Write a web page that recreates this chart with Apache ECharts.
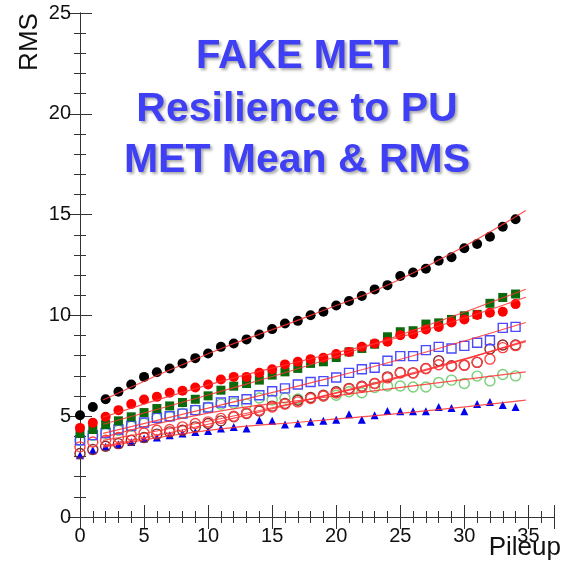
<!DOCTYPE html>
<html>
<head>
<meta charset="utf-8">
<script src="https://cdn.jsdelivr.net/npm/echarts@6/dist/echarts.min.js"></script>
<style>
  html, body { margin: 0; padding: 0; background: #fff; }
  #chart { width: 564px; height: 571px; }
</style>
</head>
<body>
<div id="chart"></div>
<script>
// pileup bins
const pileup = [0, 1, 2, 3, 4, 5, 6, 7, 8, 9, 10, 11, 12, 13, 14, 15, 16, 17,
  18, 19, 20, 21, 22, 23, 24, 25, 26, 27, 28, 29, 30, 31, 32, 33, 34];

// RMS values
const blackFilled = [5.05, 5.46, 5.84, 6.21, 6.57, 6.95, 7.18, 7.37, 7.62, 7.88, 8.11, 8.44, 8.61, 8.81, 9.05, 9.32, 9.60, 9.73,
  10.01, 10.18, 10.49, 10.71, 10.96, 11.29, 11.50, 11.95, 12.13, 12.31, 12.71, 12.88, 13.33, 13.54, 13.90, 14.40, 14.77];
const redFilled = [4.42, 4.67, 4.97, 5.30, 5.60, 5.83, 5.96, 6.16, 6.26, 6.42, 6.57, 6.82, 6.95, 6.95, 7.15, 7.33, 7.57, 7.70,
  7.83, 7.90, 8.08, 8.19, 8.44, 8.61, 8.69, 9.02, 9.07, 9.30, 9.43, 9.65, 9.80, 10.02, 10.13, 10.18, 10.56];
const greenSquares = [4.14, 4.34, 4.59, 4.77, 4.97, 5.18, 5.38, 5.51, 5.68, 5.84, 6.01, 6.29, 6.49, 6.62, 6.79, 7.04, 7.20, 7.37,
  7.62, 7.70, 7.91, 8.19, 8.36, 8.57, 8.94, 9.19, 9.24, 9.57, 9.63, 9.80, 9.98, 10.05, 10.60, 10.89, 11.06];
const blueSquares = [3.81, 4.06, 4.17, 4.34, 4.52, 4.69, 4.92, 5.00, 5.13, 5.30, 5.43, 5.68, 5.74, 5.84, 6.04, 6.24, 6.38, 6.57,
  6.70, 6.74, 6.92, 7.15, 7.33, 7.40, 7.75, 7.98, 7.98, 8.28, 8.44, 8.36, 8.49, 8.64, 8.77, 9.38, 9.43];
const redOpen = [3.48, 3.72, 3.81, 3.94, 4.06, 4.17, 4.30, 4.34, 4.47, 4.64, 4.72, 4.89, 5.00, 5.16, 5.30, 5.46, 5.60, 5.71,
  5.88, 6.00, 6.15, 6.35, 6.45, 6.62, 6.90, 7.15, 7.15, 7.35, 7.55, 7.48, 7.53, 7.68, 7.83, 8.40, 8.50];
const brownOpen = [3.15, 3.35, 3.51, 3.64, 3.81, 3.94, 4.11, 4.22, 4.30, 4.47, 4.64, 4.77, 4.97, 5.13, 5.26, 5.50, 5.63, 5.79,
  5.93, 6.04, 6.21, 6.38, 6.49, 6.62, 6.95, 7.17, 7.15, 7.37, 7.75, 7.50, 7.53, 7.67, 8.33, 8.53, 8.53];
const greenOpen = [3.80, 4.05, 4.15, 4.30, 4.50, 4.65, 4.90, 5.00, 5.15, 5.30, 5.45, 5.60, 5.65, 5.60, 5.90, 5.80, 5.90, 5.85,
  5.90, 6.00, 6.04, 6.21, 6.16, 6.42, 6.50, 6.50, 6.45, 6.45, 6.67, 6.79, 6.62, 6.99, 6.75, 7.07, 7.00];
const blueTriangles = [3.06, 3.31, 3.48, 3.61, 3.72, 3.89, 3.94, 4.06, 4.14, 4.22, 4.27, 4.39, 4.47, 4.39, 4.80, 4.77, 4.59, 4.64,
  4.72, 4.77, 4.83, 5.10, 4.83, 5.05, 5.26, 5.25, 5.25, 5.25, 5.46, 5.41, 5.25, 5.60, 5.71, 5.55, 5.46];

// fit curves, sampled off the plot
const fitX = [1.8, 10, 18, 26, 34.8];
const fitBlack = [5.8, 8.1, 10.0, 12.1, 15.2];
const fitRedFilled = [4.95, 6.55, 7.85, 9.1, 10.9];
const fitGreenSquares = [4.6, 6.05, 7.55, 9.25, 11.3];
const fitBlueSquares = [4.15, 5.4, 6.65, 8.0, 9.65];
const fitRedOpen = [3.8, 4.75, 5.85, 7.1, 8.75];
const fitBrownOpen = [3.5, 4.6, 5.85, 7.15, 8.7];
const fitGreenOpen = [3.95, 5.15, 5.85, 6.5, 7.2];
const fitTriangles = [3.45, 4.3, 4.75, 5.2, 5.8];

const xTicks = [0, 5, 10, 15, 20, 25, 30, 35];
const yTicks = [0, 5, 10, 15, 20, 25];

function pts(ys) {
  return pileup.map(function (x, i) { return [x, ys[i]]; });
}
function fitPts(ys) {
  return fitX.map(function (x, i) { return [x, ys[i]]; });
}

function scatter(name, ys, symbol, size, fill, stroke) {
  return {
    name: name,
    type: 'scatter',
    data: pts(ys),
    symbol: symbol,
    symbolSize: size,
    itemStyle: {
      color: fill || 'rgba(255,255,255,0)',
      borderColor: stroke || fill,
      borderWidth: fill ? 0 : 1.4,
      opacity: 1
    },
    z: 3
  };
}
function fit(ys) {
  return {
    type: 'line',
    data: fitPts(ys),
    smooth: true,
    showSymbol: false,
    symbol: 'none',
    lineStyle: { color: '#ff3030', width: 1.2, opacity: 0.85 },
    z: 4,
    silent: true
  };
}

const font = "'Liberation Sans', Arial, sans-serif";
const axisCommon = {
  type: 'value',
  interval: 5,
  minorTick: { show: true, splitNumber: 5, length: 6, lineStyle: { color: '#333' } },
  axisLine: { show: true, lineStyle: { color: '#333', width: 1 } },
  axisTick: { show: true, inside: true, length: 12, lineStyle: { color: '#333' } },
  splitLine: { show: false },
  minorSplitLine: { show: false }
};

let myChart = echarts.init(document.getElementById('chart'), null, { renderer: 'canvas' });
myChart.setOption({
  backgroundColor: '#fff',
  animation: false,
  grid: { left: 80, right: 10, top: 13, bottom: 54 },
  xAxis: [
    Object.assign({}, axisCommon, {
      position: 'bottom', min: 0, max: 37,
      axisLabel: {
        color: '#111', fontSize: 20, fontFamily: font, margin: 9,
        showMinLabel: true, showMaxLabel: false,
        formatter: function (v) { return xTicks.indexOf(v) >= 0 ? String(v) : ''; }
      }
    }),
    Object.assign({}, axisCommon, {
      position: 'top', min: 0, max: 37,
      axisLabel: { show: false }
    })
  ],
  yAxis: [
    Object.assign({}, axisCommon, {
      position: 'left', min: 0, max: 25,
      axisLabel: {
        color: '#111', fontSize: 20, fontFamily: font, margin: 9,
        showMinLabel: true, showMaxLabel: true,
        formatter: function (v) { return yTicks.indexOf(v) >= 0 ? String(v) : ''; }
      }
    }),
    Object.assign({}, axisCommon, {
      position: 'right', min: 0, max: 25,
      axisLabel: { show: false }
    })
  ],
  series: [
    scatter('blue triangles', blueTriangles, 'triangle', 8, '#0000ee'),
    scatter('green open', greenOpen, 'circle', 10, null, '#77d077'),
    scatter('brown open', brownOpen, 'circle', 10, null, '#8a2a2a'),
    scatter('red open', redOpen, 'circle', 10, null, '#ff4040'),
    scatter('blue open', blueSquares, 'rect', 9, null, '#4a4aff'),
    scatter('green squares', greenSquares, 'rect', 9, '#0b6a0b'),
    scatter('red filled', redFilled, 'circle', 10, '#ff0000'),
    scatter('black filled', blackFilled, 'circle', 10, '#000000'),
    fit(fitBlack),
    fit(fitRedFilled),
    fit(fitGreenSquares),
    fit(fitBlueSquares),
    fit(fitRedOpen),
    fit(fitBrownOpen),
    fit(fitGreenOpen),
    fit(fitTriangles)
  ],
  graphic: [
    {
      type: 'text', x: 30, y: 42, rotation: Math.PI / 2,
      style: { text: 'RMS', font: '26px ' + font, fill: '#111', align: 'center', verticalAlign: 'middle' }
    },
    {
      type: 'text', x: 561, y: 548,
      style: { text: 'Pileup', font: '26px ' + font, fill: '#111', align: 'right', verticalAlign: 'middle' }
    },
    {
      type: 'text', x: 297, y: 57,
      style: {
        text: 'FAKE MET', font: 'bold 40px ' + font, fill: '#3f3ff5', align: 'center', verticalAlign: 'middle',
        textShadowColor: 'rgba(0,0,0,0.35)', textShadowBlur: 3, textShadowOffsetX: 2, textShadowOffsetY: 2
      }
    },
    {
      type: 'text', x: 297, y: 110,
      style: {
        text: 'Resilience to PU', font: 'bold 41px ' + font, fill: '#3f3ff5', align: 'center', verticalAlign: 'middle',
        textShadowColor: 'rgba(0,0,0,0.35)', textShadowBlur: 3, textShadowOffsetX: 2, textShadowOffsetY: 2
      }
    },
    {
      type: 'text', x: 297, y: 161,
      style: {
        text: 'MET Mean & RMS', font: 'bold 41px ' + font, fill: '#3f3ff5', align: 'center', verticalAlign: 'middle',
        textShadowColor: 'rgba(0,0,0,0.35)', textShadowBlur: 3, textShadowOffsetX: 2, textShadowOffsetY: 2
      }
    }
  ]
});
</script>
</body>
</html>
